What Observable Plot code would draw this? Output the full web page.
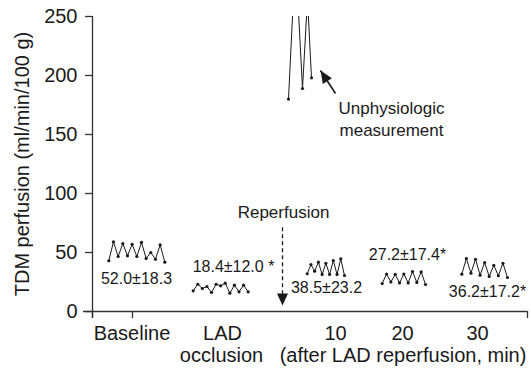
<!DOCTYPE html>
<html>
<head>
<meta charset="utf-8">
<script src="https://cdn.jsdelivr.net/npm/d3@7"></script>
<script src="https://cdn.jsdelivr.net/npm/@observablehq/plot@0.6"></script>
<style>
  html, body { margin: 0; padding: 0; background: #fff; }
</style>
</head>
<body>
<div id="chart"></div>
<script>
// ---- data ----
const yTicks = [0, 50, 100, 150, 200, 250];
const xTickPositions = [0, 4, 43.5];

// per-phase individual readings (ml/min/100 g), drawn as zigzag traces
const baselineValues = [43, 59.1, 46.6, 57.6, 47.2, 57, 46.6, 58.5, 45, 50, 44.3, 56.5, 41.8];
const occlusionValues = [17.5, 23.1, 19.5, 21.2, 16.1, 23.1, 21.8, 24, 15.5, 22.3, 16.7, 22.3, 16.7];
const reperf10Values = [32, 39.8, 34.2, 41.8, 31.4, 40.9, 31.4, 43.2, 31.4, 44.6, 30.5];
const reperf20Values = [23.7, 31.8, 25, 31.4, 24.2, 31.8, 24.2, 33.9, 24.6, 33.5, 22.9];
const reperf30Values = [31.6, 44.9, 32.5, 44.3, 30.8, 41.5, 29.7, 39.2, 30.3, 40.9, 28.8];

const phaseNames = ["Baseline", "LAD occlusion", "10", "20", "30"];
const phaseStart = [1.63, 10.07, 21.47, 28.97, 36.93];
const phaseStep = [0.467, 0.458, 0.373, 0.433, 0.457];
const phaseValues = [baselineValues, occlusionValues, reperf10Values, reperf20Values, reperf30Values];

// unphysiologic spike right after reperfusion
const spikeX = [19.6, 20.3, 21.0, 21.5, 21.9];
const spikeY = [180, 302, 189, 265, 198];

// mean ± SD annotations
const statTexts = ["52.0±18.3", "18.4±12.0 *", "38.5±23.2", "27.2±17.4*", "36.2±17.2*"];
const statX = [4.4, 14.1, 23.4, 31.5, 39.5];
const statY = [28.0, 38.1, 19.9, 47.9, 16.9];

// category labels
const xLabels1 = ["Baseline", "LAD", "10", "20", "30"];
const xLabels1X = [3.95, 13.0, 24.3, 31.0, 38.5];
const xLabels2 = ["occlusion", "(after LAD reperfusion, min)"];
const xLabels2X = [12.9, 31.05];

const yLabel = "TDM perfusion (ml/min/100 g)";

// ---- build ----
const rows = phaseNames.flatMap((name, k) =>
  phaseValues[k].map((v, i) => ({phase: name, x: phaseStart[k] + i * phaseStep[k], y: v}))
);
const spike = spikeX.map((x, i) => ({x, y: spikeY[i]}));
const stats = statTexts.map((t, i) => ({text: t, x: statX[i], y: statY[i]}));
const lab1 = xLabels1.map((t, i) => ({text: t, x: xLabels1X[i]}));
const lab2 = xLabels2.map((t, i) => ({text: t, x: xLabels2X[i]}));

const ink = "#1a1a1a";

const downTriangle = {
  draw(context, size) {
    const r = Math.sqrt(size / Math.PI);
    context.moveTo(-r * 0.92, -r);
    context.lineTo(r * 0.92, -r);
    context.lineTo(0, r);
    context.closePath();
  }
};
// arrow head whose tip is at the anchor, pointing up-left
const headAngle = Math.atan2(-23, -15);
const pointedHead = {
  draw(context, size) {
    const r = Math.sqrt(size / Math.PI);
    const L = r * 2.1, w = r * 0.9;
    const dx = Math.cos(headAngle), dy = Math.sin(headAngle);
    const bx = -dx * L, by = -dy * L;
    context.moveTo(0, 0);
    context.lineTo(bx - dy * w, by + dx * w);
    context.lineTo(bx + dy * w, by - dx * w);
    context.closePath();
  }
};

const chart = Plot.plot({
  width: 531,
  height: 368,
  marginLeft: 92,
  marginRight: 4,
  marginTop: 16,
  marginBottom: 57,
  x: {domain: [0, 43.5], axis: null},
  y: {domain: [0, 250], axis: null},
  style: {fontFamily: "'Liberation Sans', Arial, sans-serif", background: "#fff", color: ink, overflow: "visible"},
  marks: [
    Plot.axisY({ticks: yTicks, tickSize: 7, tickPadding: 8, fontSize: 20, label: null, stroke: "#333", strokeWidth: 1.3}),
    Plot.ruleX([0], {y1: 250, y2: -6, stroke: "#333", strokeWidth: 1.3}),
    Plot.ruleY([0], {x1: -0.9, x2: 43.5, stroke: "#333", strokeWidth: 1.3}),
    Plot.ruleX(xTickPositions, {y1: 0, y2: -6, stroke: "#333", strokeWidth: 1.3}),

    Plot.line(rows, {x: "x", y: "y", z: "phase", stroke: ink, strokeWidth: 1}),
    Plot.dot(rows, {x: "x", y: "y", r: 1.6, fill: ink}),

    Plot.line(spike, {x: "x", y: "y", stroke: ink, strokeWidth: 1, clip: true}),
    Plot.dot(spike, {x: "x", y: "y", r: 1.6, fill: ink, clip: true}),

    // reperfusion marker
    Plot.ruleX([19.0], {y1: 71, y2: 14, stroke: ink, strokeWidth: 1.3, strokeDasharray: "4,3"}),
    Plot.dot([{x: 19.0, y: 10.2}], {x: "x", y: "y", symbol: downTriangle, r: 6, fill: ink}),
    Plot.text(["Reperfusion"], {x: 19.1, y: 84, fontSize: 17, fill: ink}),

    // unphysiologic arrow
    Plot.link([{x1: 24.3, y1: 184.7, x2: 22.8, y2: 204.2}], {x1: "x1", y1: "y1", x2: "x2", y2: "y2", stroke: ink, strokeWidth: 1.6}),
    Plot.dot([{x: 22.8, y: 204.2}], {x: "x", y: "y", symbol: pointedHead, r: 6, fill: ink}),
    Plot.text(["Unphysiologic", "measurement"], {x: 29.9, y: [172, 153], fontSize: 17, fill: ink}),

    Plot.text(stats, {x: "x", y: "y", text: "text", fontSize: 16, fill: ink, lineAnchor: "middle"}),

    Plot.text(lab1, {x: "x", y: 0, text: "text", dy: 22, fontSize: 20, fill: ink}),
    Plot.text(lab2, {x: "x", y: 0, text: "text", dy: 44, fontSize: 20, fill: ink}),

    Plot.text([yLabel], {frameAnchor: "left", rotate: -90, dx: -70, fontSize: 20, fill: ink, textAnchor: "middle", lineAnchor: "middle"})
  ]
});
document.getElementById("chart").appendChild(chart);
</script>
</body>
</html>
